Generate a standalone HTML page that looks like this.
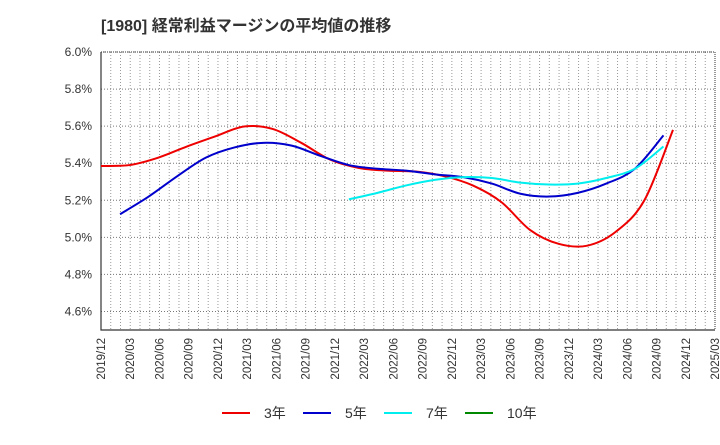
<!DOCTYPE html>
<html><head><meta charset="utf-8"><style>
body{margin:0;background:#fff;font-family:"Liberation Sans","Noto Sans CJK JP",sans-serif}
svg text{font-family:"Liberation Sans","Noto Sans CJK JP",sans-serif}
</style></head><body>
<svg id="chart" width="720" height="440" xmlns="http://www.w3.org/2000/svg">
<text x="101" y="31" font-size="16" font-weight="bold" fill="#333">[1980]  経常利益マージンの平均値の推移</text>
<g id="grid"></g><g id="axes"></g><g id="series"></g>
<g id="legend"></g>
</svg>
<script>
const xLabels=["2019/12","2020/03","2020/06","2020/09","2020/12","2021/03","2021/06","2021/09","2021/12","2022/03","2022/06","2022/09","2022/12","2023/03","2023/06","2023/09","2023/12","2024/03","2024/06","2024/09","2024/12","2025/03"];
const yTicks=[4.6,4.8,5.0,5.2,5.4,5.6,5.8,6.0];
const s3Start=0;
const s3=[5.385,5.39,5.43,5.49,5.545,5.598,5.585,5.51,5.42,5.375,5.36,5.355,5.33,5.28,5.19,5.04,4.965,4.955,5.03,5.2,5.58];
const s5Start=0.667;
const s5=[5.125,5.22,5.33,5.43,5.485,5.51,5.495,5.44,5.39,5.37,5.36,5.34,5.325,5.29,5.235,5.22,5.24,5.29,5.37,5.55];
const s7Start=8.667;
const s7=[5.205,5.24,5.28,5.31,5.325,5.32,5.295,5.285,5.29,5.32,5.37,5.49];
const s10Start=0;
const s10=[];
const X0=101,X1=715,Y0=52,Y1=330,YMIN=4.5,YMAX=6.0,NMON=63;
const DQ=28.6;
const xm=m=>X0+(X1-X0)*m/NMON;
const xq=q=>xm(q*3);
const xd=q=>X0+q*DQ;
const y=v=>Y1-(v-YMIN)/(YMAX-YMIN)*(Y1-Y0);
const NS="http://www.w3.org/2000/svg";
function mk(tag,attrs,parent){const e=document.createElementNS(NS,tag);for(const k in attrs)e.setAttribute(k,attrs[k]);document.getElementById(parent).appendChild(e);return e;}
for(let m=1;m<NMON;m++){const l=mk('line',{x1:xm(m),x2:xm(m),y1:Y0,y2:Y1,stroke:'#999','stroke-dasharray':'1,2','stroke-width':1},'grid');

}
yTicks.forEach(v=>{const l=mk('line',{x1:X0,x2:X1,y1:y(v),y2:y(v),stroke:'#777','stroke-dasharray':'1,2','stroke-width':1},'grid');


const t=mk('text',{x:X0-9,y:y(v)+4,'text-anchor':'end','font-size':12,fill:'#333'},'axes');t.textContent=v.toFixed(1)+'%';

});
const fr=mk('rect',{x:X0,y:Y0,width:X1-X0,height:Y1-Y0,fill:'none',stroke:'#333','stroke-dasharray':'1,1'},'axes');


const ax=mk('path',{d:`M${X0} ${Y0}V${Y1}H${X1}`,fill:'none',stroke:'#333','stroke-width':1.2},'axes');


xLabels.forEach((s,i)=>{const xx=xq(i)+4;const t=mk('text',{x:0,y:0,transform:`translate(${xx},${Y1+8}) rotate(-90)`,'text-anchor':'end','font-size':11.5,fill:'#333'},'axes');t.textContent=s;

});
function smooth(pts){let d=`M${pts[0][0]},${pts[0][1]}`;for(let i=0;i<pts.length-1;i++){const p0=pts[i-1]||pts[i],p1=pts[i],p2=pts[i+1],p3=pts[i+2]||p2;
d+=` C${p1[0]+(p2[0]-p0[0])/6},${p1[1]+(p2[1]-p0[1])/6} ${p2[0]-(p3[0]-p1[0])/6},${p2[1]-(p3[1]-p1[1])/6} ${p2[0]},${p2[1]}`;}return d;}
function draw(arr,start,color,name){if(!arr.length)return;const pts=arr.map((v,i)=>[xd(start+i),y(v)]);
const p=mk('path',{d:smooth(pts),fill:'none',stroke:color,'stroke-width':2},'series');

}
draw(s3,s3Start,'#e00','series-3yr');
draw(s5,s5Start,'#00c','series-5yr');
draw(s7,s7Start,'#0ee','series-7yr');
draw(s10,s10Start,'#080','series-10yr');
const leg=[['3年','#e00',222],['5年','#00c',303],['7年','#0ee',384],['10年','#080',465]];
leg.forEach(([n,c,x0])=>{const l=mk('line',{x1:x0,x2:x0+28,y1:413,y2:413,stroke:c,'stroke-width':2},'legend');


const t=mk('text',{x:x0+42,y:418,'font-size':14,fill:'#333'},'legend');t.textContent=n;

});
</script>
</body></html>
